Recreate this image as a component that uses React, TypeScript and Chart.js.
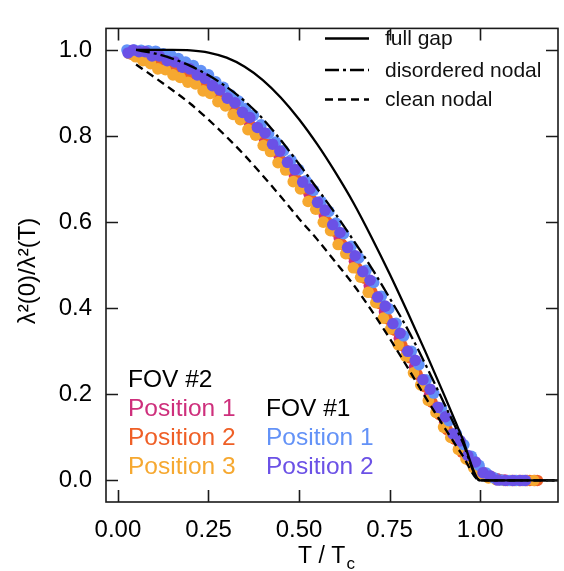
import React, { useEffect, useRef } from 'react';
import { Chart, registerables } from 'chart.js';

Chart.register(...registerables);

const FONT = "'Liberation Sans', Arial, Helvetica, sans-serif";

// Axis ticks
const xTickValues = [0, 0.25, 0.5, 0.75, 1.0];
const yTickValues = [0, 0.2, 0.4, 0.6, 0.8, 1.0];

// Theory curves
const fullGapX = [0.05, 0.10, 0.15, 0.20, 0.25, 0.30, 0.35, 0.40, 0.45, 0.50, 0.55, 0.60, 0.65, 0.70, 0.75, 0.80, 0.85, 0.90, 0.95, 1.00, 1.25];
const fullGapY = [1.0, 1.0, 1.0, 0.999, 0.994, 0.982, 0.961, 0.930, 0.889, 0.839, 0.781, 0.716, 0.645, 0.565, 0.480, 0.390, 0.297, 0.200, 0.100, 0.0, 0.0];

const dirtyX = [0.05, 0.10, 0.15, 0.20, 0.25, 0.30, 0.35, 0.40, 0.45, 0.50, 0.55, 0.60, 0.65, 0.70, 0.75, 0.80, 0.85, 0.90, 0.95, 1.00, 1.25];
const dirtyY = [1.0, 0.992, 0.980, 0.963, 0.941, 0.914, 0.881, 0.840, 0.790, 0.735, 0.678, 0.620, 0.558, 0.494, 0.424, 0.351, 0.268, 0.180, 0.092, 0.0, 0.0];

const cleanX = [0.05, 0.10, 0.15, 0.20, 0.25, 0.30, 0.35, 0.40, 0.45, 0.50, 0.55, 0.60, 0.65, 0.70, 0.75, 0.80, 0.85, 0.90, 0.95, 1.00, 1.25];
const cleanY = [0.966, 0.937, 0.907, 0.875, 0.838, 0.798, 0.755, 0.708, 0.659, 0.608, 0.560, 0.508, 0.455, 0.395, 0.330, 0.262, 0.192, 0.125, 0.060, 0.0, 0.0];

// FOV #2, Position 1
const f2p1X = [0.032, 0.052, 0.071, 0.093, 0.113, 0.134, 0.155, 0.176, 0.196, 0.217, 0.238, 0.259, 0.279, 0.300, 0.321, 0.342, 0.362, 0.383, 0.404, 0.425, 0.445, 0.466, 0.487, 0.508, 0.528, 0.549, 0.570, 0.591, 0.611, 0.632, 0.653, 0.674, 0.694, 0.715, 0.736, 0.757, 0.777, 0.798, 0.819, 0.840, 0.860, 0.881, 0.902, 0.923, 0.943, 0.964, 0.985, 1.006, 1.026, 1.047, 1.068, 1.089, 1.109, 1.130, 1.151];
const f2p1Y = [0.994, 0.992, 0.985, 0.982, 0.974, 0.970, 0.960, 0.957, 0.944, 0.938, 0.922, 0.914, 0.897, 0.886, 0.866, 0.853, 0.832, 0.818, 0.794, 0.778, 0.754, 0.736, 0.710, 0.690, 0.665, 0.644, 0.615, 0.593, 0.564, 0.541, 0.509, 0.484, 0.452, 0.426, 0.392, 0.364, 0.330, 0.301, 0.264, 0.234, 0.198, 0.169, 0.134, 0.107, 0.078, 0.056, 0.034, 0.020, 0.010, 0.004, 0.001, 0.0, 0.0, 0.0, 0.0];

// FOV #2, Position 2
const f2p2X = [0.038, 0.058, 0.079, 0.099, 0.120, 0.141, 0.162, 0.182, 0.203, 0.224, 0.245, 0.266, 0.286, 0.307, 0.328, 0.349, 0.369, 0.390, 0.411, 0.432, 0.452, 0.473, 0.494, 0.515, 0.535, 0.556, 0.577, 0.598, 0.618, 0.639, 0.660, 0.681, 0.701, 0.722, 0.743, 0.764, 0.784, 0.805, 0.826, 0.847, 0.867, 0.888, 0.909, 0.930, 0.950, 0.971, 0.992, 1.013, 1.033, 1.054, 1.075, 1.096, 1.116, 1.137, 1.158];
const f2p2Y = [0.990, 0.986, 0.976, 0.977, 0.966, 0.964, 0.953, 0.948, 0.936, 0.929, 0.914, 0.905, 0.887, 0.876, 0.856, 0.843, 0.821, 0.806, 0.783, 0.766, 0.742, 0.724, 0.698, 0.678, 0.652, 0.631, 0.601, 0.579, 0.549, 0.527, 0.494, 0.470, 0.438, 0.411, 0.376, 0.349, 0.314, 0.285, 0.247, 0.218, 0.182, 0.153, 0.118, 0.096, 0.066, 0.046, 0.028, 0.016, 0.008, 0.002, 0.0, 0.0, 0.0, 0.0, 0.0];

// FOV #2, Position 3
const f2p3X = [0.030, 0.049, 0.069, 0.090, 0.110, 0.131, 0.152, 0.172, 0.193, 0.214, 0.235, 0.255, 0.276, 0.297, 0.318, 0.338, 0.359, 0.380, 0.401, 0.421, 0.442, 0.463, 0.484, 0.504, 0.525, 0.546, 0.567, 0.587, 0.608, 0.629, 0.650, 0.670, 0.691, 0.712, 0.733, 0.753, 0.774, 0.795, 0.816, 0.836, 0.857, 0.878, 0.899, 0.919, 0.940, 0.961, 0.982, 1.002, 1.023, 1.044, 1.065, 1.085, 1.106, 1.127, 1.148];
const f2p3Y = [0.992, 0.984, 0.975, 0.968, 0.956, 0.954, 0.942, 0.936, 0.925, 0.921, 0.905, 0.899, 0.880, 0.870, 0.850, 0.838, 0.815, 0.802, 0.778, 0.764, 0.738, 0.721, 0.694, 0.677, 0.648, 0.630, 0.600, 0.580, 0.548, 0.527, 0.494, 0.472, 0.437, 0.413, 0.377, 0.352, 0.315, 0.288, 0.250, 0.222, 0.186, 0.158, 0.124, 0.100, 0.072, 0.050, 0.030, 0.016, 0.006, 0.002, 0.0, 0.0, 0.0, 0.0, 0.0];

// FOV #1, Position 1
const f1p1X = [0.025, 0.045, 0.064, 0.084, 0.104, 0.125, 0.146, 0.167, 0.187, 0.208, 0.229, 0.250, 0.270, 0.291, 0.312, 0.333, 0.353, 0.374, 0.395, 0.416, 0.436, 0.457, 0.478, 0.499, 0.519, 0.540, 0.561, 0.582, 0.602, 0.623, 0.644, 0.665, 0.685, 0.706, 0.727, 0.748, 0.768, 0.789, 0.810, 0.831, 0.851, 0.872, 0.893, 0.914, 0.934, 0.955, 0.976, 0.997, 1.017, 1.038, 1.059, 1.080, 1.100, 1.121];
const f1p1Y = [1.000, 1.000, 0.999, 0.998, 0.997, 0.991, 0.988, 0.980, 0.972, 0.964, 0.952, 0.942, 0.926, 0.913, 0.895, 0.881, 0.864, 0.848, 0.826, 0.806, 0.786, 0.766, 0.744, 0.722, 0.696, 0.674, 0.648, 0.625, 0.598, 0.573, 0.544, 0.517, 0.488, 0.460, 0.428, 0.399, 0.365, 0.336, 0.300, 0.269, 0.234, 0.203, 0.168, 0.139, 0.109, 0.083, 0.056, 0.035, 0.017, 0.006, 0.001, 0.0, 0.0, 0.0];

// FOV #1, Position 2
const f1p2X = [0.028, 0.042, 0.058, 0.075, 0.094, 0.114, 0.136, 0.157, 0.178, 0.198, 0.219, 0.240, 0.261, 0.281, 0.302, 0.323, 0.344, 0.364, 0.385, 0.406, 0.427, 0.447, 0.468, 0.489, 0.510, 0.530, 0.551, 0.572, 0.593, 0.613, 0.634, 0.655, 0.676, 0.696, 0.717, 0.738, 0.759, 0.779, 0.800, 0.821, 0.842, 0.862, 0.883, 0.904, 0.925, 0.945, 0.966, 0.987, 1.008, 1.028, 1.049, 1.070, 1.091, 1.111, 1.125];
const f1p2Y = [0.993, 1.000, 0.996, 0.996, 0.986, 0.986, 0.975, 0.972, 0.960, 0.956, 0.942, 0.934, 0.917, 0.907, 0.888, 0.877, 0.855, 0.843, 0.820, 0.807, 0.781, 0.765, 0.739, 0.722, 0.693, 0.677, 0.646, 0.628, 0.594, 0.576, 0.541, 0.522, 0.485, 0.465, 0.426, 0.405, 0.364, 0.342, 0.300, 0.279, 0.234, 0.212, 0.170, 0.148, 0.108, 0.092, 0.058, 0.043, 0.018, 0.010, 0.001, 0.0, 0.0, 0.0, 0.0];

const theoryLabels = ['full gap', 'disordered nodal', 'clean nodal'];
const fov2Title = 'FOV #2';
const fov1Title = 'FOV #1';
const fov2Labels = ['Position 1', 'Position 2', 'Position 3'];
const fov1Labels = ['Position 1', 'Position 2'];

const colors = {
  f2p1: '#CE2F7C',
  f2p2: '#EF5F26',
  f2p3: '#F6A830',
  f1p1: '#6392F7',
  f1p2: '#6B51E6',
};

const DASH = [8, 5];
const DASHDOT = [14, 4, 3, 4];

const pts = (xs: number[], ys: number[]) => xs.map((x, i) => ({ x, y: ys[i] }));

const framePlugin = {
  id: 'framePlugin',
  afterDatasetsDraw(chart: any) {
    const { ctx, chartArea: a, scales } = chart;
    const xs = scales.x;
    const ys = scales.y;
    ctx.save();
    ctx.strokeStyle = '#1a1a1a';
    ctx.lineWidth = 1.6;
    ctx.setLineDash([]);
    ctx.strokeRect(a.left, a.top, a.right - a.left, a.bottom - a.top);
    const L = 12;
    ctx.beginPath();
    xs.ticks.forEach((t: any) => {
      const p = Math.round(xs.getPixelForValue(t.value)) + 0.5;
      ctx.moveTo(p, a.bottom);
      ctx.lineTo(p, a.bottom - L);
      ctx.moveTo(p, a.top);
      ctx.lineTo(p, a.top + L);
    });
    ys.ticks.forEach((t: any) => {
      const p = Math.round(ys.getPixelForValue(t.value)) + 0.5;
      ctx.moveTo(a.left, p);
      ctx.lineTo(a.left + L, p);
      ctx.moveTo(a.right, p);
      ctx.lineTo(a.right - L, p);
    });
    ctx.stroke();

    // theory legend (top right)
    const dashes = [[], DASHDOT, DASH];
    const rowsY = [38.5, 70, 99.5];
    ctx.font = `21px ${FONT}`;
    ctx.fillStyle = '#111';
    ctx.textBaseline = 'middle';
    ctx.textAlign = 'left';
    theoryLabels.forEach((lab, i) => {
      ctx.beginPath();
      ctx.lineWidth = 2.3;
      ctx.strokeStyle = '#000';
      ctx.setLineDash(dashes[i]);
      ctx.moveTo(325, rowsY[i]);
      ctx.lineTo(369, rowsY[i]);
      ctx.stroke();
      ctx.fillText(lab, 385, rowsY[i] + 1);
    });
    ctx.setLineDash([]);

    // FOV legend (bottom left)
    ctx.font = `24.5px ${FONT}`;
    ctx.textBaseline = 'alphabetic';
    const base = [387, 416, 445, 473.5];
    ctx.fillStyle = '#000';
    ctx.fillText(fov2Title, 128, base[0]);
    const c2 = [colors.f2p1, colors.f2p2, colors.f2p3];
    fov2Labels.forEach((lab, i) => {
      ctx.fillStyle = c2[i];
      ctx.fillText(lab, 128, base[i + 1]);
    });
    ctx.fillStyle = '#000';
    ctx.fillText(fov1Title, 266, base[1]);
    const c1 = [colors.f1p1, colors.f1p2];
    fov1Labels.forEach((lab, i) => {
      ctx.fillStyle = c1[i];
      ctx.fillText(lab, 266, base[i + 2]);
    });

    // x axis title with subscript
    ctx.fillStyle = '#000';
    ctx.font = `23px ${FONT}`;
    const main = 'T / T';
    const wMain = ctx.measureText(main).width;
    ctx.font = `17px ${FONT}`;
    const wSub = ctx.measureText('c').width;
    const cx = 326;
    const startX = cx - (wMain + wSub) / 2;
    ctx.font = `23px ${FONT}`;
    ctx.fillText(main, startX, 563);
    ctx.font = `17px ${FONT}`;
    ctx.fillText('c', startX + wMain + 1, 569);

    // y axis title
    ctx.save();
    ctx.translate(28, 271);
    ctx.rotate(-Math.PI / 2);
    ctx.font = `24px ${FONT}`;
    ctx.textAlign = 'center';
    ctx.textBaseline = 'middle';
    ctx.fillText('λ²(0)/λ²(T)', 0, 0);
    ctx.restore();

    ctx.restore();
  },
};

export default function App() {
  const ref = useRef<HTMLCanvasElement>(null);
  useEffect(() => {
    if (!ref.current) return;
    const lineDs = (label: string, xs: number[], ys: number[], dash: number[]) => ({
      type: 'scatter' as const,
      label,
      data: pts(xs, ys),
      showLine: true,
      borderColor: '#000',
      borderWidth: 2.3,
      borderDash: dash,
      pointRadius: 0,
      cubicInterpolationMode: 'monotone' as const,
      order: 0,
      clip: 0,
    });
    const dotDs = (label: string, xs: number[], ys: number[], color: string, order: number) => ({
      type: 'scatter' as const,
      label,
      data: pts(xs, ys),
      backgroundColor: color,
      borderWidth: 0,
      pointRadius: 5.8,
      order,
    });
    const chart = new Chart(ref.current, {
      type: 'scatter',
      data: {
        datasets: [
          lineDs('full gap', fullGapX, fullGapY, []),
          lineDs('disordered nodal', dirtyX, dirtyY, DASHDOT),
          lineDs('clean nodal', cleanX, cleanY, DASH),
          dotDs('FOV #2 Position 1', f2p1X, f2p1Y, colors.f2p1, 5),
          dotDs('FOV #2 Position 2', f2p2X, f2p2Y, colors.f2p2, 4),
          dotDs('FOV #2 Position 3', f2p3X, f2p3Y, colors.f2p3, 3),
          dotDs('FOV #1 Position 1', f1p1X, f1p1Y, colors.f1p1, 2),
          dotDs('FOV #1 Position 2', f1p2X, f1p2Y, colors.f1p2, 1),
        ] as any,
      },
      options: {
        animation: false,
        responsive: false,
        layout: { padding: { top: 12, right: 6, left: 0, bottom: 0 } },
        plugins: { legend: { display: false }, tooltip: { enabled: false } },
        scales: {
          x: {
            type: 'linear',
            min: -0.033,
            max: 1.215,
            grid: { display: false, drawTicks: false },
            border: { display: false },
            afterBuildTicks: (s: any) => {
              s.ticks = xTickValues.map((v) => ({ value: v }));
            },
            afterFit: (s: any) => {
              s.height = 69;
            },
            ticks: {
              padding: 14,
              color: '#000',
              font: { family: FONT, size: 24 },
              callback: (v: any) => Number(v).toFixed(2),
              maxRotation: 0,
            },
          },
          y: {
            type: 'linear',
            min: -0.05,
            max: 1.05,
            grid: { display: false, drawTicks: false },
            border: { display: false },
            afterBuildTicks: (s: any) => {
              s.ticks = yTickValues.map((v) => ({ value: v }));
            },
            afterFit: (s: any) => {
              s.width = 106;
            },
            ticks: {
              padding: 14,
              color: '#000',
              font: { family: FONT, size: 24 },
              callback: (v: any) => Number(v).toFixed(1),
            },
          },
        },
      },
      plugins: [framePlugin],
    });
    return () => chart.destroy();
  }, []);
  return (
    <div style={{ position: 'fixed', left: 0, top: 0, width: 564, height: 571, background: '#fff' }}>
      <canvas ref={ref} width={564} height={571} style={{ display: 'block' }} />
    </div>
  );
}
